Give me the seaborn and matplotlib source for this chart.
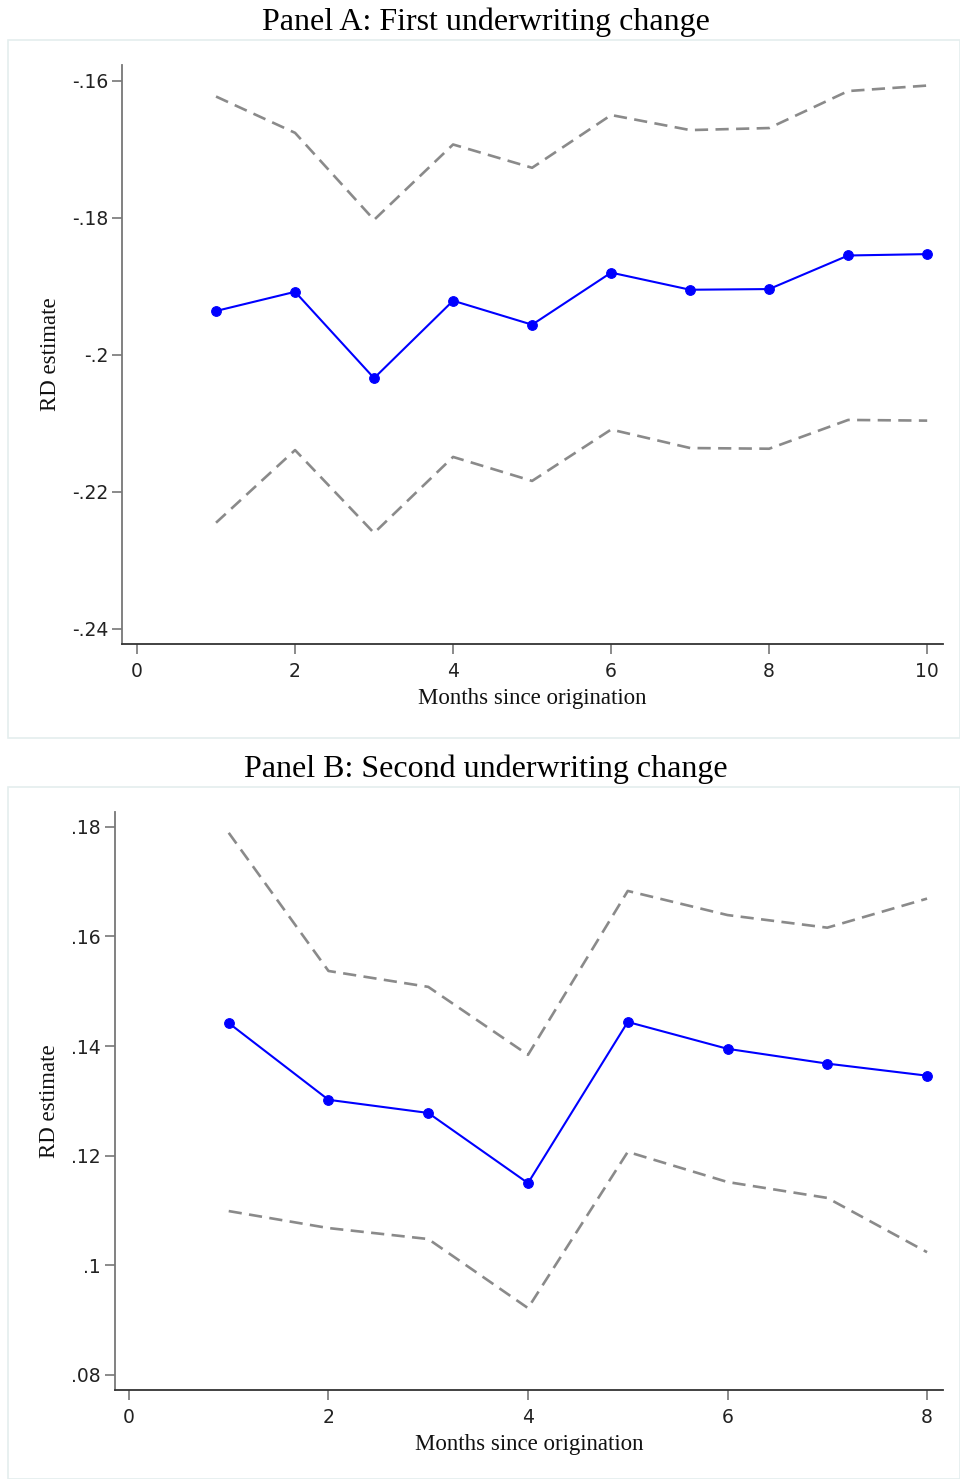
import numpy as np
import pandas as pd
import matplotlib
matplotlib.use("Agg")
import matplotlib.pyplot as plt
import seaborn as sns
from matplotlib.patches import Rectangle

# Panel A: first underwriting change
months_a = [1, 2, 3, 4, 5, 6, 7, 8, 9, 10]
est_a = [-0.1936, -0.1908, -0.2034, -0.1921, -0.1956, -0.1880, -0.1905, -0.1904, -0.1855, -0.1853]
upper_a = [-0.1623, -0.1676, -0.1803, -0.1693, -0.1727, -0.1650, -0.1672, -0.1669, -0.1615, -0.1607]
lower_a = [-0.2245, -0.2139, -0.2260, -0.2149, -0.2184, -0.2109, -0.2136, -0.2137, -0.2095, -0.2096]

# Panel B: second underwriting change
months_b = [1, 2, 3, 4, 5, 6, 7, 8]
est_b = [0.1442, 0.1302, 0.1278, 0.1150, 0.1444, 0.1395, 0.1368, 0.1346]
upper_b = [0.1789, 0.1537, 0.1508, 0.1384, 0.1683, 0.1639, 0.1616, 0.1669]
lower_b = [0.1099, 0.1068, 0.1048, 0.0922, 0.1207, 0.1152, 0.1123, 0.1024]

yticks_a = [-0.16, -0.18, -0.20, -0.22, -0.24]
yticklabels_a = ["-.16", "-.18", "-.2", "-.22", "-.24"]
xticks_a = [0, 2, 4, 6, 8, 10]
yticks_b = [0.18, 0.16, 0.14, 0.12, 0.10, 0.08]
yticklabels_b = [".18", ".16", ".14", ".12", ".1", ".08"]
xticks_b = [0, 2, 4, 6, 8]

sns.set_style("white")
plt.rcParams["font.family"] = ["DejaVu Sans"]

fig = plt.figure(figsize=(9.6, 14.79), dpi=100)
W, H = 960, 1479


def fr(x0, y0, x1, y1):
    # pixel box (top-left origin) -> figure fraction rect
    return [x0 / W, 1 - y1 / H, (x1 - x0) / W, (y1 - y0) / H]


def panel(box, axbox, title, title_y, months, est, upper, lower,
          xticks, yticks, yticklabels, xlim, ylim):
    fig.patches.append(Rectangle((box[0] / W, 1 - box[3] / H),
                                 (box[2] - box[0]) / W, (box[3] - box[1]) / H,
                                 transform=fig.transFigure, facecolor="none",
                                 edgecolor="#e4eeee", linewidth=1.2, zorder=-5))
    fig.text(0.506, 1 - title_y / H, title, ha="center", va="center",
             fontsize=23, family="Liberation Serif", color="black")
    ax = fig.add_axes(fr(*axbox))
    ax.set_facecolor("none")
    df = pd.DataFrame({"m": months, "est": est, "up": upper, "lo": lower})
    sns.lineplot(data=df, x="m", y="up", ax=ax, color="#8a8a8a", lw=1.9,
                 linestyle=(0, (5, 2.8)))
    sns.lineplot(data=df, x="m", y="lo", ax=ax, color="#8a8a8a", lw=1.9,
                 linestyle=(0, (5, 2.8)))
    sns.lineplot(data=df, x="m", y="est", ax=ax, color="#0000ff", lw=1.5,
                 marker="o", markersize=7, markeredgecolor="#0000ff")
    ax.set_xlim(*xlim)
    ax.set_ylim(*ylim)
    ax.set_xticks(xticks)
    ax.set_xticklabels([str(t) for t in xticks])
    ax.set_yticks(yticks)
    ax.set_yticklabels(yticklabels)
    for s in ["top", "right"]:
        ax.spines[s].set_visible(False)
    ax.spines["left"].set_color("#777777")
    ax.spines["bottom"].set_color("#333333")
    ax.spines["left"].set_linewidth(1.3)
    ax.spines["bottom"].set_linewidth(1.3)
    ax.tick_params(axis="both", bottom=True, left=True, direction="out",
                   length=7, width=1.2, color="#777777", labelsize=13.5,
                   labelcolor="#222222", pad=3)
    ax.tick_params(axis="x", pad=6)
    ax.set_xlabel("Months since origination", fontsize=16.5,
                  family="Liberation Serif", color="#111111", labelpad=5)
    ax.set_ylabel("RD estimate", fontsize=16.5, family="Liberation Serif",
                  color="#111111", labelpad=8)
    ax.grid(False)
    return ax


panel((8, 40, 960, 738), (122, 65, 943, 644),
      "Panel A: First underwriting change", 22,
      months_a, est_a, upper_a, lower_a,
      xticks_a, yticks_a, yticklabels_a,
      (-0.19, 10.2), (-0.2422, -0.1577))

panel((8, 787, 960, 1479), (115, 812, 943, 1390),
      "Panel B: Second underwriting change", 769,
      months_b, est_b, upper_b, lower_b,
      xticks_b, yticks_b, yticklabels_b,
      (-0.14, 8.16), (0.07726, 0.1827))

fig.savefig("out.png", dpi=100)
